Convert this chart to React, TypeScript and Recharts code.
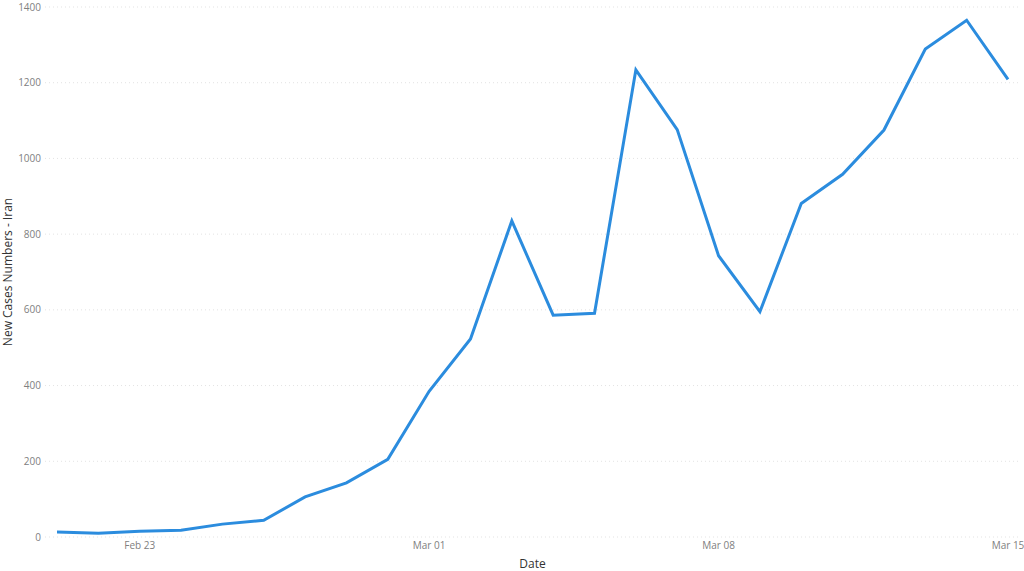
import { CartesianGrid, Line, LineChart, XAxis, YAxis } from "recharts";

const DATES = [
  "Feb 21", "Feb 22", "Feb 23", "Feb 24", "Feb 25", "Feb 26", "Feb 27", "Feb 28", "Feb 29",
  "Mar 01", "Mar 02", "Mar 03", "Mar 04", "Mar 05", "Mar 06", "Mar 07", "Mar 08", "Mar 09",
  "Mar 10", "Mar 11", "Mar 12", "Mar 13", "Mar 14", "Mar 15"
];

const NEW_CASES = [
  13, 10, 15, 18, 34, 44, 106, 143, 205, 385, 523, 835, 586, 591, 1234, 1076, 743, 595, 881,
  958, 1075, 1289, 1365, 1209
];

const X_TICKS = [2, 9, 16, 23];
const Y_TICKS = [0, 200, 400, 600, 800, 1000, 1200, 1400];

const FONT = "'Segoe UI', 'Open Sans', sans-serif";

const data = DATES.map((date, idx) => ({ idx, date, cases: NEW_CASES[idx] }));

export default function App(): JSX.Element {
  return (
    <div style={{ width: 1024, height: 571, background: "#fff" }}>
      <style>{"body { margin: 0; }"}</style>
      <LineChart width={1024} height={571} data={data} margin={{ top: 7, right: 4, bottom: 0, left: 0 }}>
        <CartesianGrid vertical={false} stroke="#e3e3e3" strokeDasharray="1 3" />
        <XAxis
          dataKey="idx"
          type="number"
          domain={[0, 23]}
          ticks={X_TICKS}
          tickFormatter={(v: number) => DATES[v]}
          padding={{ left: 12, right: 12 }}
          axisLine={false}
          tickLine={false}
          tickSize={0}
          tickMargin={5}
          height={34}
          tick={{ fill: "#808080", fontSize: 10, fontFamily: FONT }}
          label={{
            value: "Date",
            position: "insideBottom",
            offset: 3,
            style: { fill: "#333", fontSize: 12, fontFamily: FONT }
          }}
        />
        <YAxis
          domain={[0, 1400]}
          ticks={Y_TICKS}
          width={45}
          axisLine={false}
          tickLine={false}
          tickSize={0}
          tickMargin={4}
          tick={{ fill: "#808080", fontSize: 10, fontFamily: FONT }}
          label={{
            value: "New Cases Numbers - Iran",
            angle: -90,
            position: "insideLeft",
            offset: 8,
            style: { textAnchor: "middle", fill: "#333", fontSize: 12, fontFamily: FONT }
          }}
        />
        <Line
          type="linear"
          dataKey="cases"
          stroke="#2B8CDE"
          strokeWidth={3}
          dot={false}
          isAnimationActive={false}
        />
      </LineChart>
    </div>
  );
}
